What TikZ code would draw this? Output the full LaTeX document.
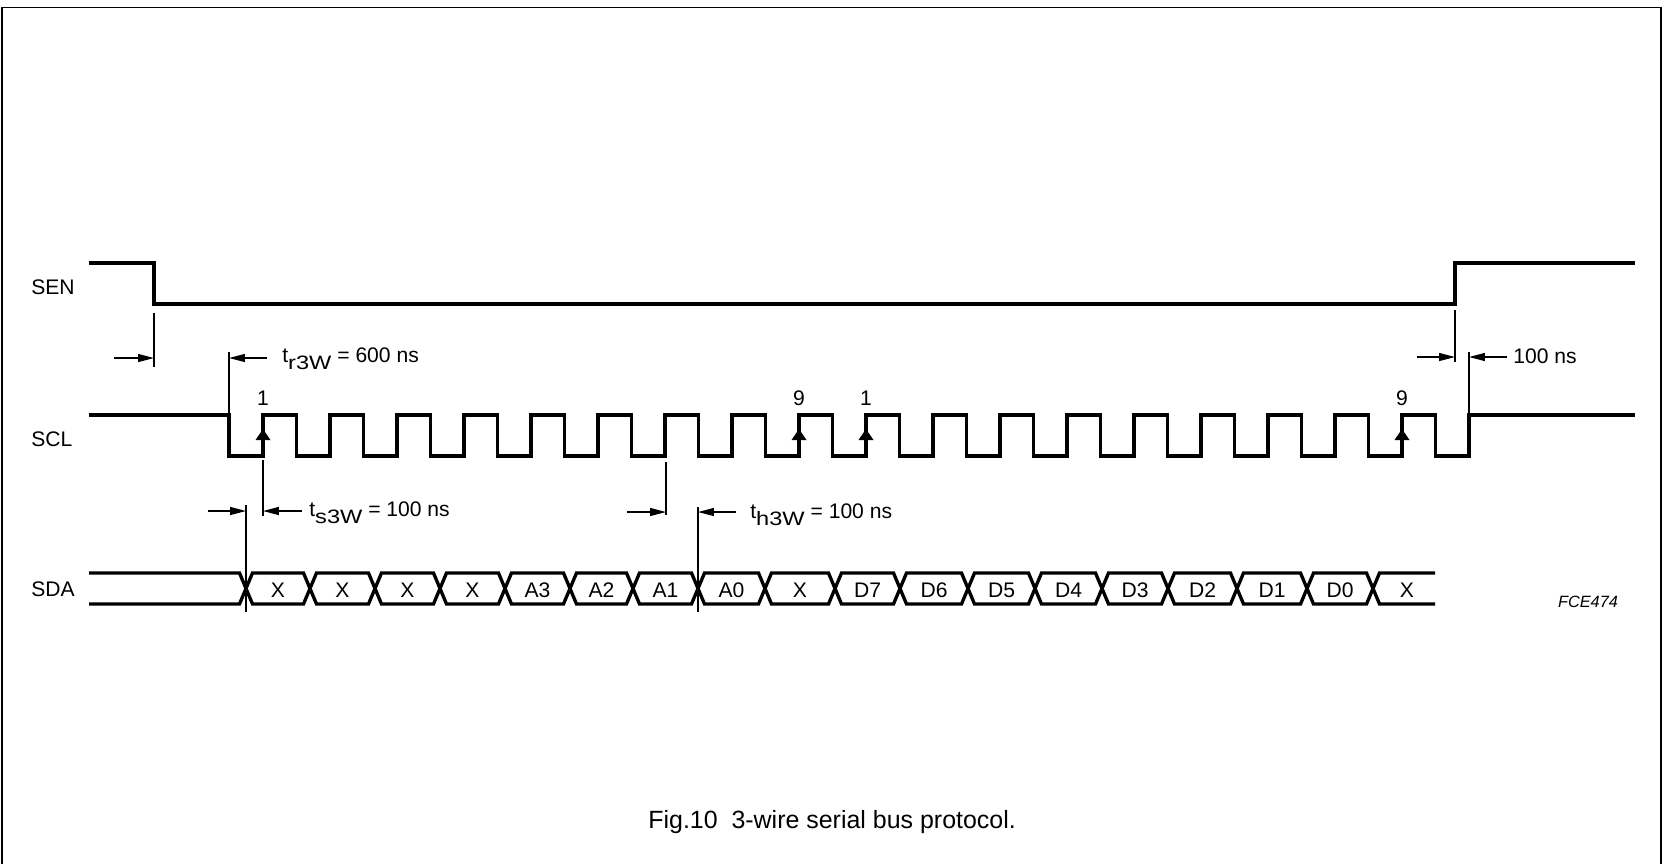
\documentclass[tikz,border=0pt]{standalone}
\usepackage{fontspec}
\usepackage{graphicx}
\setmainfont{Liberation Sans}
\usetikzlibrary{arrows.meta}
\tikzset{sig/.style={line width=1.9pt},
 dim/.style={line width=0.75pt},
 dimarrow/.style={line width=0.75pt,-{Triangle[length=9pt,width=4.5pt]}},
 lbl/.style={font=\fontsize{12}{14}\selectfont,inner sep=0pt},
 }
\newcommand{\tsub}[1]{\raisebox{-4pt}{\scalebox{1.12}[0.92]{\fontsize{12}{14}\selectfont #1}}}

\begin{document}
\begin{tikzpicture}[x=0.02cm,y=-0.02cm]
        \useasboundingbox (0,0) rectangle (1665,863);
        \draw[line width=1.1pt] (2,880) -- (2,7.5) -- (1661,7.5) -- (1661,880);
        % signal names
        \node[lbl,anchor=base west] (sen) at (31,294) {SEN};
        \node[lbl,anchor=base west] (scl) at (31,446) {SCL};
        \node[lbl,anchor=base west] (sda) at (31,596) {SDA};
        % SEN
        \draw[sig] (89,263) -- (154,263) -- (154,304) -- (1455,304) -- (1455,263) -- (1635,263);
        % SCL
        \draw[sig] (89,415) -- (229,415) -- (229,456)
            \foreach \k in {0,...,17} { -- ({263+67*\k},456) -- ({263+67*\k},415)
            -- ({296.5+67*\k},415) -- ({296.5+67*\k},456) }
            -- (1469,456) -- (1469,415) -- (1635,415);
        \foreach \k/\n in {0/1,8/9,9/1,17/9} {
            \fill ({263+67*\k-7.5},440) -- ({263+67*\k},429) -- ({263+67*\k+7.5},440) -- cycle;
            \node[lbl,anchor=base] (bit\k) at ({263+67*\k},405) {\n};
        }
        % SDA
        \draw[sig] (89,573) -- (239.5,573) -- (246,588.5);
        \draw[sig] (89,604) -- (239.5,604) -- (246,588.5);
        \foreach \a/\b/\t [count=\i] in {246/310/X,310/375/X,375/440/X,440/505/X,
            505/570/A3,570/633/A2,633/698/A1,698/765/A0,765/835/X,835/900/D7,
            900/968/D6,968/1035/D5,1035/1102/D4,1102/1168/D3,1168/1237/D2,
            1237/1307/D1,1307/1373/D0} {
            \draw[sig] (\a,588.5) -- (\a+6.5,573) -- (\b-6.5,573) -- (\b,588.5);
            \draw[sig] (\a,588.5) -- (\a+6.5,604) -- (\b-6.5,604) -- (\b,588.5);
            \node[lbl,anchor=base] (cell\i) at ({(\a+\b)/2},597) {\t};
        }
        \draw[sig] (1373,588.5) -- (1379.5,573) -- (1435,573);
        \draw[sig] (1373,588.5) -- (1379.5,604) -- (1435,604);
        \node[lbl,anchor=base] (cell18) at (1407,597) {X};
        % timing marks
        \draw[dim] (154,313) -- (154,367);
        \coordinate (senfall) at (154,358);
        \draw[dimarrow] (114,358) -- (senfall);
        \draw[dim] (229,352) -- (229,413);
        \coordinate (sclfall) at (229,358);
        \draw[dimarrow] (267,358) -- (sclfall);
        \node[lbl,anchor=base west] (tr) at (282,362) {t\tsub{r3W} = 600 ns};
        \draw[dim] (246,505) -- (246,612);
        \coordinate (sdafirst) at (246,511);
        \draw[dimarrow] (208,511) -- (sdafirst);
        \draw[dim] (263,460) -- (263,516);
        \coordinate (sclfirst) at (263,511);
        \draw[dimarrow] (302,511) -- (sclfirst);
        \node[lbl,anchor=base west] (ts) at (309,516) {t\tsub{s3W} = 100 ns};
        \draw[dim] (666,462) -- (666,515);
        \coordinate (sclsev) at (666,512);
        \draw[dimarrow] (627,512) -- (sclsev);
        \draw[dim] (698,507) -- (698,612);
        \coordinate (sdahold) at (698,512);
        \draw[dimarrow] (736,512) -- (sdahold);
        \node[lbl,anchor=base west] (th) at (750,518) {t\tsub{h3W} = 100 ns};
        \draw[dim] (1455,310) -- (1455,362);
        \coordinate (senrise) at (1455,357);
        \draw[dimarrow] (1417,357) -- (senrise);
        \draw[dim] (1469,352) -- (1469,413);
        \coordinate (scllast) at (1469,357);
        \draw[dimarrow] (1507,357) -- (scllast);
        \node[lbl,anchor=base west] (tl) at (1513,363) {100 ns};
        % caption
        \node[font=\fontsize{9.3}{11}\selectfont\itshape,inner sep=0pt] (code) at (1588,602) {FCE474};
        \node[font=\fontsize{14.2}{17}\selectfont,inner sep=0pt,anchor=base west] (cap) at (648,828) {Fig.10\ \ 3-wire serial bus protocol.};
    \end{tikzpicture}
\end{document}
